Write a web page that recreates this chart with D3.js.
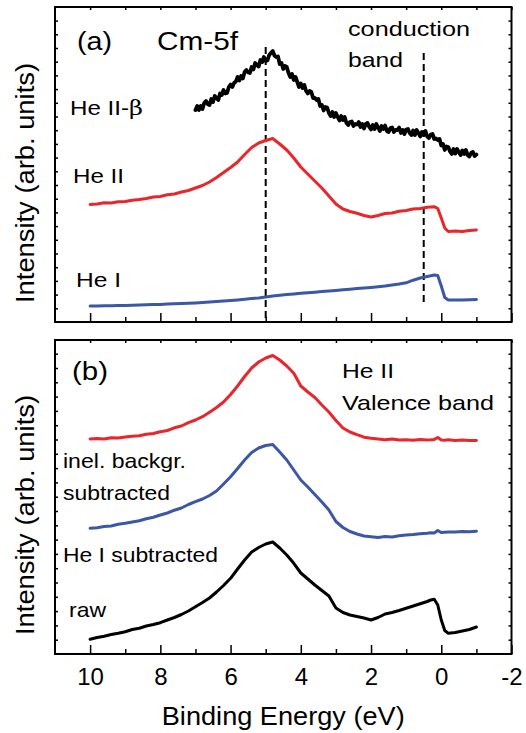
<!DOCTYPE html>
<html>
<head>
<meta charset="utf-8">
<style>
  body { margin: 0; background: #fff; }
  text { font-family: "Liberation Sans", Arial, sans-serif; fill: #000; }
  .frame { fill: none; stroke: #000; stroke-width: 2; }
  .axis path { display: none; }
  .axis line { stroke: #000; stroke-width: 1.5; }
  .axis text { font-size: 24px; }
  .curve { fill: none; stroke-linejoin: round; stroke-linecap: round; }
  .marker { stroke: #000; stroke-width: 2; stroke-dasharray: 7,4; }
</style>
<script src="https://d3js.org/d3.v7.min.js"></script>
</head>
<body>
<script>
// binding energy grid (eV) shared by the smooth spectra
var energy = [10.0, 9.8, 9.6, 9.4, 9.2, 9.0, 8.8, 8.6, 8.4, 8.2, 8.0, 7.8, 7.6, 7.4, 7.2, 7.0,
  6.8, 6.6, 6.4, 6.2, 6.0, 5.8, 5.6, 5.4, 5.2, 5.0, 4.8, 4.6, 4.4, 4.2, 4.0, 3.8, 3.6, 3.4,
  3.2, 3.0, 2.8, 2.6, 2.4, 2.2, 2.0, 1.8, 1.6, 1.4, 1.2, 1.0, 0.8, 0.6, 0.4, 0.3, 0.2, 0.1,
  0.0, -0.1, -0.2, -0.4, -0.6, -0.8, -1.0];

// panel (a)
var heI = [16, 16, 16.2, 16.3, 16.5, 16.6, 16.8, 17, 17.2, 17.4, 17.6, 17.9, 18.2, 18.5, 18.8, 19.1,
  19.5, 20, 20.5, 21, 21.5, 22.1, 22.7, 23.4, 24.1, 25, 26, 26.8, 27.4, 28.1, 28.7, 29.2, 29.8, 30.4,
  31, 31.6, 32.2, 32.8, 33.4, 34, 34.6, 35.3, 36, 37, 38, 39.2, 41.8, 44, 45.5, 46.2, 47, 46.5,
  36, 24.5, 22, 22, 22, 22.3, 22.5];
var heII = [117.5, 118, 119.2, 119, 120.3, 120.5, 121.8, 122.5, 123.5, 125, 125.5, 127.3, 128, 130, 131.5, 134,
  136.5, 140, 144.5, 149.5, 154.5, 160, 167.5, 174.5, 179, 181.5, 183.5, 178, 172, 164, 155, 148, 141, 134,
  126, 118, 113, 110.5, 108.7, 106.5, 105, 106.5, 108.5, 109, 110.8, 111.5, 113, 113.5, 114.7, 115, 115.3, 113.5,
  104, 94, 90.5, 91, 90.5, 91.5, 92];
var betaEnergy = [7.00, 6.95, 6.90, 6.85, 6.80, 6.75, 6.70, 6.65, 6.60, 6.55, 6.50, 6.45, 6.40, 6.35,
  6.30, 6.25, 6.20, 6.15, 6.10, 6.05, 6.00, 5.95, 5.90, 5.85, 5.80, 5.75, 5.70, 5.65, 5.60, 5.55,
  5.50, 5.45, 5.40, 5.35, 5.30, 5.25, 5.20, 5.15, 5.10, 5.05, 5.00, 4.95, 4.90, 4.85, 4.80, 4.75,
  4.70, 4.65, 4.60, 4.55, 4.50, 4.45, 4.40, 4.35, 4.30, 4.25, 4.20, 4.15, 4.10, 4.05, 4.00, 3.95,
  3.90, 3.85, 3.80, 3.75, 3.70, 3.65, 3.60, 3.55, 3.50, 3.45, 3.40, 3.35, 3.30, 3.25, 3.20, 3.15,
  3.10, 3.05, 3.00, 2.95, 2.90, 2.85, 2.80, 2.75, 2.70, 2.65, 2.60, 2.55, 2.50, 2.45, 2.40, 2.35,
  2.30, 2.25, 2.20, 2.15, 2.10, 2.05, 2.00, 1.95, 1.90, 1.85, 1.80, 1.75, 1.70, 1.65, 1.60, 1.55,
  1.50, 1.45, 1.40, 1.35, 1.30, 1.25, 1.20, 1.15, 1.10, 1.05, 1.00, 0.95, 0.90, 0.85, 0.80, 0.75,
  0.70, 0.65, 0.60, 0.55, 0.50, 0.45, 0.40, 0.35, 0.30, 0.25, 0.20, 0.15, 0.10, 0.05, 0.00, -0.05,
  -0.10, -0.15, -0.20, -0.25, -0.30, -0.35, -0.40, -0.45, -0.50, -0.55, -0.60, -0.65, -0.70, -0.75,
  -0.80, -0.85, -0.90, -0.95, -1.00];
var heIIbeta = [212, 216, 212, 216, 213, 219, 221, 218, 217, 223, 220, 226, 224, 222,
  228.5, 227, 232, 228.5, 229, 235, 237.5, 235, 239, 240.5, 245, 241.5, 246, 243.5, 250, 252,
  249.5, 249, 255, 252.5, 259, 257, 255.5, 262, 260, 265, 261, 261.5, 267, 269, 271, 266.5,
  265, 265.5, 258, 259, 253, 256, 255, 249, 245, 248, 242, 245, 240, 235, 238.5, 234,
  237, 231, 228.5, 231, 230, 224, 224, 222, 223, 216, 217, 211.5, 215, 214.5, 209, 206,
  210, 205, 209, 205, 201.5, 206, 202, 205, 199, 197, 200, 200.5, 196, 198, 197.5, 200,
  195, 198, 193.5, 198, 199, 195, 192.5, 197, 193, 198, 194.5, 191, 196, 193, 196.5, 191,
  190, 194, 194.5, 190, 192, 192, 194.5, 189, 192, 188, 192.5, 193, 189, 187, 191.5, 187,
  192, 189, 185.5, 190, 187, 191, 185.5, 184, 187.5, 188, 183, 183.5, 182, 183, 176.5, 178,
  172, 175.5, 175, 170.5, 168, 173, 168.5, 173, 170, 167, 171.5, 168, 172, 167,
  165.5, 169, 170, 166, 167.5];

// panel (b)
var valence = [215, 215.5, 215, 216.3, 216, 217, 217.8, 218.2, 219.8, 220.5, 222.3, 223.5, 226.2, 228, 231.3, 234,
  237.3, 241.8, 246.5, 252, 259.5, 268, 277.5, 286, 292, 296, 298.5, 294, 288, 280.7, 268, 262, 256.5, 249,
  242, 233.5, 226, 222, 219.3, 216.8, 215.7, 215, 214.3, 215, 214, 214.3, 213.7, 214.5, 214, 214.2, 214.6, 216.5,
  214, 213.8, 214.2, 213.6, 214, 213.5, 213.6];
var heISub = [125.7, 126.3, 127.5, 128, 129.8, 130.7, 132, 133.2, 135.3, 136.8, 139, 141, 143.8, 146, 149.5, 152.3,
  155, 158.5, 163, 170, 177.3, 185.5, 194, 201.5, 206, 208.5, 209.5, 202, 194, 184, 174, 167, 159.5, 152,
  144, 132.5, 126.5, 122.5, 120, 118, 117.3, 116.5, 117.5, 117, 118.3, 119, 119.5, 120.3, 120.8, 121.2, 121, 123.5,
  121.5, 121.8, 122, 122, 122.5, 122.3, 122.8];
var raw = [14.7, 16.5, 17.8, 19.5, 20.8, 22.3, 24.5, 25.8, 28, 29.5, 31.3, 34, 36.5, 39.5, 43, 47.3,
  51.5, 56, 62, 68.5, 75.7, 85, 94, 102, 106.5, 110, 112, 106, 99, 90.7, 81, 75, 69, 63.5,
  58, 46, 41.5, 39, 37.5, 36, 34, 36.5, 40, 41.5, 43.5, 45.7, 48, 50.3, 52.5, 54, 54.7, 49,
  34, 23.5, 20.7, 21.5, 23, 24.5, 27];

// dashed guide lines in panel (a): energy, lower and upper intensity
var guideEnergy = [5.0, 0.5];
var guideLow = [4, 20];
var guideHigh = [279, 269];

var majorTicks = [10, 8, 6, 4, 2, 0, -2];
var majorLabels = ["10", "8", "6", "4", "2", "0", "-2"];
var minorTicks = [9, 7, 5, 3, 1, -1];

var width = 526, height = 733;
var left = 55, right = 511.5;

var svg = d3.select("body").append("svg")
  .attr("width", width)
  .attr("height", height);

var x = d3.scaleLinear().domain([11, -2]).range([left, right]);

function makePanel(top, bottom, maxY, tickStep, showLabels) {
  var y = d3.scaleLinear().domain([0, maxY]).range([bottom, top]);
  var g = svg.append("g");

  g.append("g").attr("class", "axis")
    .attr("transform", "translate(0," + bottom + ")")
    .call(d3.axisBottom(x).tickValues(majorTicks).tickSize(-9).tickPadding(14)
      .tickFormat(function(d, i) { return showLabels ? majorLabels[i] : ""; }));
  g.append("g").attr("class", "axis")
    .attr("transform", "translate(0," + bottom + ")")
    .call(d3.axisBottom(x).tickValues(minorTicks).tickSize(-5).tickFormat(""));
  g.append("g").attr("class", "axis")
    .attr("transform", "translate(0," + top + ")")
    .call(d3.axisTop(x).tickValues(majorTicks.concat(minorTicks)).tickSize(-3).tickFormat(""));

  var yTicks = d3.range(tickStep, maxY - 2, tickStep);
  g.append("g").attr("class", "axis")
    .attr("transform", "translate(" + left + ",0)")
    .call(d3.axisLeft(y).tickValues(yTicks).tickSize(-3).tickFormat(""));
  g.append("g").attr("class", "axis")
    .attr("transform", "translate(" + right + ",0)")
    .call(d3.axisRight(y).tickValues(yTicks).tickSize(-3).tickFormat(""));

  g.append("rect").attr("class", "frame")
    .attr("x", left).attr("y", top)
    .attr("width", right - left).attr("height", bottom - top);

  g.y = y;
  return g;
}

function drawCurve(g, xs, ys, color, w) {
  var line = d3.line()
    .x(function(d, i) { return x(xs[i]); })
    .y(function(d) { return g.y(d); });
  g.append("path")
    .attr("class", "curve")
    .attr("stroke", color)
    .attr("stroke-width", w)
    .attr("d", line(ys));
}

// text stretched to the width it has in the figure
function label(g, px, py, size, str, len) {
  return g.append("text")
    .attr("x", px).attr("y", py)
    .attr("font-size", size)
    .attr("textLength", len)
    .attr("lengthAdjust", "spacingAndGlyphs")
    .text(str);
}

var red = "#e8262c", blue = "#3b57a6";

// panel (a)
var pa = makePanel(7, 322, 315, 13.7, false);
guideEnergy.forEach(function(e, i) {
  pa.append("line").attr("class", "marker")
    .attr("x1", x(e)).attr("x2", x(e))
    .attr("y1", pa.y(guideLow[i])).attr("y2", pa.y(guideHigh[i]));
});
drawCurve(pa, energy, heI, blue, 3);
drawCurve(pa, energy, heII, red, 3);
drawCurve(pa, betaEnergy, heIIbeta, "#000", 3.8);

label(pa, 77, 50, 25, "(a)", 35);
label(pa, 157, 50, 25, "Cm-5f", 81);
label(pa, 348, 36, 21, "conduction", 122);
label(pa, 348, 67, 21, "band", 55);
var bt = label(pa, 70, 115, 21, "He II-", 73);
bt.append("tspan").style("font-family", "'DejaVu Serif', 'Liberation Serif', serif").text("β");
label(pa, 73, 183, 21, "He II", 51);
label(pa, 76, 287, 21, "He I", 45);

// panel (b)
var pb = makePanel(340, 654, 314, 14.3, true);
drawCurve(pb, energy, raw, "#000", 3);
drawCurve(pb, energy, heISub, blue, 3);
drawCurve(pb, energy, valence, red, 3);

label(pb, 72, 380, 25, "(b)", 36);
label(pb, 342, 378, 21, "He II", 52);
label(pb, 342, 410, 21, "Valence band", 152);
label(pb, 63, 468, 21, "inel. backgr.", 123);
label(pb, 63, 500, 21, "subtracted", 107);
label(pb, 63, 562, 21, "He I subtracted", 155);
label(pb, 69, 617, 21, "raw", 37);

// axis titles
svg.append("text")
  .attr("transform", "translate(34,183) rotate(-90)")
  .attr("text-anchor", "middle").attr("font-size", 25.5)
  .attr("textLength", 240).attr("lengthAdjust", "spacingAndGlyphs")
  .text("Intensity (arb. units)");
svg.append("text")
  .attr("transform", "translate(34,515) rotate(-90)")
  .attr("text-anchor", "middle").attr("font-size", 25.5)
  .attr("textLength", 240).attr("lengthAdjust", "spacingAndGlyphs")
  .text("Intensity (arb. units)");
svg.append("text")
  .attr("x", (left + right) / 2).attr("y", 725)
  .attr("text-anchor", "middle").attr("font-size", 25.5)
  .attr("textLength", 243).attr("lengthAdjust", "spacingAndGlyphs")
  .text("Binding Energy (eV)");
</script>
</body>
</html>
